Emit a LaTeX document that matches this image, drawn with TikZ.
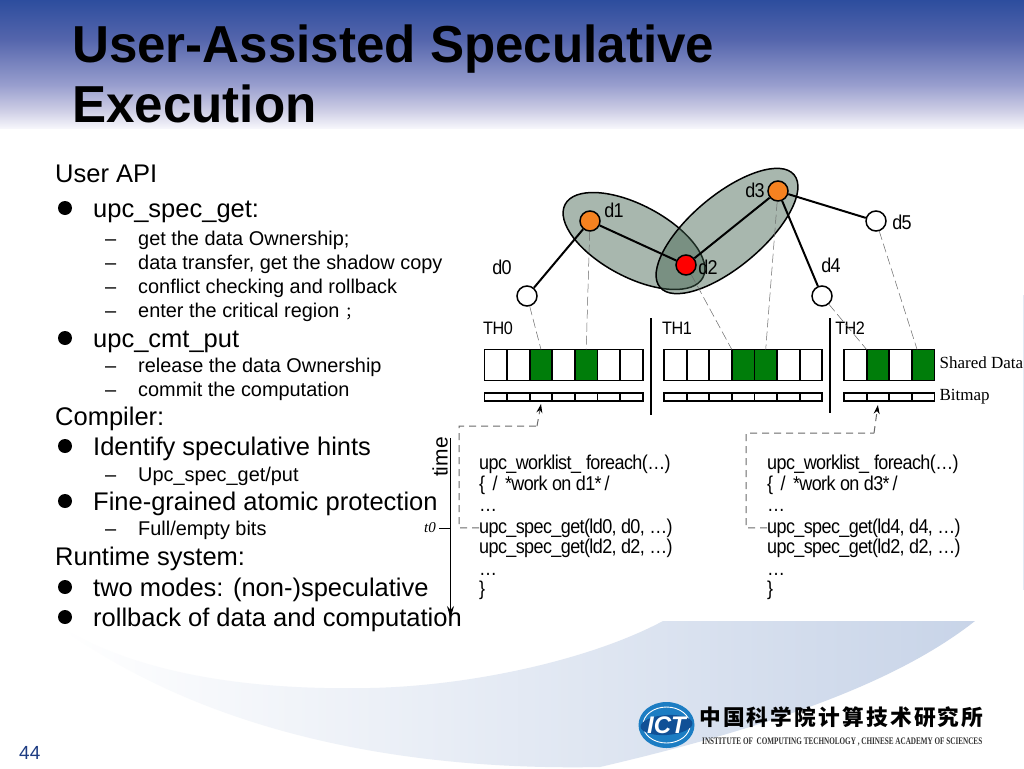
\documentclass[tikz,border=0pt]{standalone}
\usepackage{fontspec}
\setmainfont{Liberation Sans}
\newfontfamily\titlefont[FakeStretch=0.983]{Liberation Sans}
\newfontfamily\codefont[FakeStretch=0.9,LetterSpace=-3]{Liberation Sans}
\newfontfamily\figserif{Liberation Serif}
\newfontfamily\tinyserif[FakeStretch=0.717]{Liberation Serif}
\newfontfamily\cjkfont{Noto Sans CJK SC}
\newfontfamily\cjkwide[LetterSpace=10]{Noto Sans CJK SC}
\usetikzlibrary{arrows,arrows.meta,positioning,shapes.geometric}

\definecolor{bandtop}{RGB}{46,78,158}
\definecolor{bandupper}{RGB}{84,101,172}
\definecolor{bandmid}{RGB}{152,158,206}
\definecolor{bandlow}{RGB}{205,205,229}
\definecolor{bandfoot}{RGB}{246,246,251}
\definecolor{sweepblue}{RGB}{200,212,232}
\definecolor{sagefill}{RGB}{64,97,77}
\definecolor{datagreen}{RGB}{0,125,10}
\definecolor{nodeorange}{RGB}{245,130,32}
\definecolor{linkgrey}{RGB}{105,105,105}
\definecolor{pagenum}{RGB}{30,60,130}
\definecolor{logoblue}{RGB}{28,125,195}
\definecolor{logodark}{RGB}{16,80,150}

\pgfdeclareverticalshading{titleband}{100bp}{color(0bp)=(bandfoot); color(25bp)=(bandfoot);
  color(32bp)=(bandlow); color(42bp)=(bandmid); color(60bp)=(bandupper);
  color(75bp)=(bandtop); color(100bp)=(bandtop)}

\tikzset{
  heading/.style={anchor=base west,inner sep=0pt,font=\titlefont\fontsize{52}{60}\selectfont\bfseries},
  lvlzero/.style={anchor=base west,inner sep=0pt,font=\fontsize{25.5}{30}\selectfont},
  lvlone/.style={anchor=base west,inner sep=0pt,font=\fontsize{25.5}{30}\selectfont},
  lvltwo/.style={anchor=base west,inner sep=0pt,font=\fontsize{19.9}{24}\selectfont},
  bulletdot/.style={circle,fill=black,inner sep=0pt,minimum size=14pt},
  dashmark/.style={anchor=base west,inner sep=0pt,font=\fontsize{20}{24}\selectfont},
  code/.style={anchor=base west,inner sep=0pt,font=\codefont\fontsize{20}{24}\selectfont},
  figlabel/.style={inner sep=0pt,font=\codefont\fontsize{20}{24}\selectfont},
  thlabel/.style={inner sep=0pt,font=\codefont\fontsize{18}{22}\selectfont},
  sidelabel/.style={anchor=west,inner sep=0pt,font=\figserif\fontsize{17}{20}\selectfont},
  region/.style={ellipse,draw=black,line width=1.5pt,fill=sagefill,fill opacity=.45,inner sep=0pt},
  datum/.style={circle,draw=black,line width=1.5pt,fill=white,inner sep=0pt,minimum size=20pt},
  datacell/.style={draw=black,line width=1.8pt,inner sep=0pt,outer sep=0pt,minimum width=22.6pt,minimum height=31pt},
  bitcell/.style={draw=black,line width=1.8pt,fill=white,inner sep=0pt,outer sep=0pt,minimum width=22.6pt,minimum height=8pt},
  link/.style={line width=2pt,draw=black},
  owner/.style={draw=linkgrey,line width=.5pt,dash pattern=on 9pt off 4pt},
  divider/.style={line width=1.8pt,draw=black},
  feedback/.style={draw=linkgrey,line width=1pt,dash pattern=on 7pt off 5pt},
  fbtip/.style={-{Stealth[length=9pt,width=6pt,black]}},
}

\begin{document}
\begin{tikzpicture}[x=1pt,y=-1pt,>=stealth']
  \useasboundingbox (0,0) rectangle (1024,768);
  \fill[white] (0,0) rectangle (1024,768);

  % background
  \shade[shading=titleband] (0,1) rectangle (1024,128);
  \shade[left color=white,middle color=sweepblue!50,right color=sweepblue] (60,627)
    .. controls (150,680) and (270,690) .. (370,688)
    .. controls (470,686) and (590,660) .. (663,621)
    -- (975,621)
    .. controls (900,680) and (780,725) .. (600,767)
    .. controls (450,770) and (230,750) .. (60,627);
  \fill[sweepblue!50] (1022.5,295) rectangle (1024,590);

  \node[heading] (title1) at (72,63) {User-Assisted Speculative};
  \node[heading] (title2) at (72,122) {Execution};

  % left column
  \node[lvlzero] (userapi) at (55,182) {User API};
  \node[lvlone] (specget) at (93,217) {upc\_spec\_get:};
  \node[lvltwo] (own) at (138,245) {get the data Ownership;};
  \node[lvltwo] (transfer) at (138,269) {data transfer, get the shadow copy};
  \node[lvltwo] (conflict) at (138,293) {conflict checking and rollback};
  \node[lvltwo] (enter) at (138,317) {enter the critical region {\cjkfont\fontsize{15}{18}\selectfont ；}};
  \node[lvlone] (cmtput) at (93,347) {upc\_cmt\_put};
  \node[lvltwo] (release) at (138,372) {release the data Ownership};
  \node[lvltwo] (commit) at (138,396) {commit the computation};
  \node[lvlzero] (compiler) at (55,425) {Compiler:};
  \node[lvlone] (hints) at (93,455) {Identify speculative hints};
  \node[lvltwo] (getput) at (138,481) {Upc\_spec\_get/put};
  \node[lvlone] (atomic) at (93,510) {Fine-grained atomic protection};
  \node[lvltwo] (bits) at (138,535) {Full/empty bits};
  \node[lvlzero] (runtime) at (55,565) {Runtime system:};
  \node[lvlone] (modes) at (93,596) {two modes: (non-)speculative};
  \node[lvlone] (rollback) at (93,626) {rollback of data and computation};
  \foreach \n/\y in {a/208,b/338,c/446,d/501,e/587,f/617}
    \node[bulletdot] (bul\n) at (65,\y) {};
  \foreach \n/\y in {a/245,b/269,c/293,d/317,e/372,f/396,g/481,h/535}
    \node[dashmark] (dash\n) at (105,\y) {--};

  % regions and data
  \node[region,minimum width=156pt,minimum height=72pt,rotate=-28] (regionA) at (634,241) {};
  \node[region,minimum width=175pt,minimum height=72pt,rotate=40] (regionB) at (727,231) {};

  \node[datum]                  (d0) at (527,296) {};
  \node[datum,fill=nodeorange]  (d1) at (590,221) {};
  \node[datum,fill=red]         (d2) at (686,265) {};
  \node[datum,fill=nodeorange]  (d3) at (778,191) {};
  \node[datum]                  (d4) at (822,296) {};
  \node[datum]                  (d5) at (876,221) {};

  \node[figlabel] (labd0) at (502,267) {d0};
  \node[figlabel] (labd1) at (614,210) {d1};
  \node[figlabel] (labd2) at (708,267) {d2};
  \node[figlabel] (labd3) at (755,190) {d3};
  \node[figlabel] (labd4) at (831,265) {d4};
  \node[figlabel] (labd5) at (902,222) {d5};

  % arrays
  \node[thlabel] (th0) at (498,328) {TH0};
  \node[thlabel] (th1) at (677,328) {TH1};
  \node[thlabel] (th2) at (850,328) {TH2};

  \foreach \i/\c in {0/white,1/white,2/datagreen,3/white,4/datagreen,5/white,6/white} {
    \node[datacell,fill=\c] (th0c\i) at ({484.5+22.6*(\i+.5)},365) {};
    \node[bitcell] (th0b\i) at ({484.5+22.6*(\i+.5)},397) {};
  }
  \foreach \i/\c in {0/white,1/white,2/white,3/datagreen,4/datagreen,5/white,6/white} {
    \node[datacell,fill=\c] (th1c\i) at ({664+22.6*(\i+.5)},365) {};
    \node[bitcell] (th1b\i) at ({664+22.6*(\i+.5)},397) {};
  }
  \foreach \i/\c in {0/white,1/datagreen,2/white,3/datagreen} {
    \node[datacell,fill=\c] (th2c\i) at ({844+22.6*(\i+.5)},365) {};
    \node[bitcell] (th2b\i) at ({844+22.6*(\i+.5)},397) {};
  }
  \node[sidelabel,right=5pt of th2c3,yshift=2.5pt] (shared) {Shared Data};
  \node[sidelabel,right=5pt of th2b3] (bitmap) {Bitmap};

  \coordinate (div0top) at (651,318);
  \coordinate (div0end) at (651,415);
  \coordinate (div1top) at (830,318);
  \coordinate (div1end) at (830,413);
  \draw[divider] (div0top) -- (div0end);
  \draw[divider] (div1top) -- (div1end);

  \path[link] (d0) edge (d1)
              (d1) edge (d2)
              (d2) edge (d3)
              (d3) edge (d4)
              (d3) edge (d5);

  \draw[owner] (d0) -- (th0c2.north);
  \draw[owner] (d1) -- (th0c4.north);
  \draw[owner] (d2) -- (th1c3.north west);
  \draw[owner] (d3) -- (th1c4.north);
  \draw[owner] (d4) -- (th2c1.north west);
  \draw[owner] (d5) -- ([xshift=-6pt]th2c3.north);

  % code
  \node[code] (loop0) at (479,469) {upc\_worklist\_\hspace{5pt}foreach(…)};
  \node[code] (work0) at (479,490) {\{\hspace{3pt} / \hspace{3pt}*work on d1*\hspace{3pt}/};
  \node[code] (gap0a) at (479,511) {…};
  \node[code] (get0a) at (479,533) {upc\_spec\_get(ld0, d0, …)};
  \node[code] (get0b) at (479,553) {upc\_spec\_get(ld2, d2, …)};
  \node[code] (gap0b) at (479,575) {…};
  \node[code] (end0) at (479,595) {\}};

  \node[code] (loop1) at (767,469) {upc\_worklist\_\hspace{5pt}foreach(…)};
  \node[code] (work1) at (767,490) {\{\hspace{3pt} / \hspace{3pt}*work on d3*\hspace{3pt}/};
  \node[code] (gap1a) at (767,511) {…};
  \node[code] (get1a) at (767,533) {upc\_spec\_get(ld4, d4, …)};
  \node[code] (get1b) at (767,553) {upc\_spec\_get(ld2, d2, …)};
  \node[code] (gap1b) at (767,575) {…};
  \node[code] (end1) at (767,595) {\}};

  \coordinate (fb0a) at (459,528);
  \coordinate (fb0b) at (459,426);
  \coordinate (fb0c) at (537,426);
  \coordinate (fb1a) at (746,528);
  \coordinate (fb1b) at (746,433);
  \coordinate (fb1c) at (874,433);
  \draw[feedback] (get0a.west) -- (fb0a) -- (fb0b) -- (fb0c);
  \draw[feedback,fbtip] (fb0c) -- ([yshift=-3pt]th0b2.south);
  \draw[feedback] (get1a.west) -- (fb1a) -- (fb1b) -- (fb1c);
  \draw[feedback,fbtip] (fb1c) -- ([yshift=-4pt]th2b1.south);

  % time axis
  \coordinate (timetop) at (450.5,438);
  \coordinate (timeend) at (450.5,618);
  \coordinate (timet0) at (450.5,528);
  \draw[-{Stealth[length=12pt,width=7pt]},line width=.8pt] (timetop) -- (timeend);
  \node[inner sep=0pt,rotate=90,font=\fontsize{21}{24}\selectfont] (timelab) at (440,457) {time};
  \node[inner sep=0pt,anchor=east,font=\figserif\itshape\fontsize{15}{16}\selectfont] (t0) at (436,528) {t0};
  \draw[line width=.6pt,shorten <=3pt] (t0) -- (timet0);

  % footer
  \node[anchor=base west,inner sep=0pt,text=pagenum,font=\fontsize{19}{22}\selectfont] (page) at (19,759) {44};
  \node[ellipse,fill=logoblue,inner sep=0pt,minimum width=56pt,minimum height=46pt] (logo) at (666.5,725) {};
  \node[ellipse,draw=white,line width=.9pt,inner sep=0pt,minimum width=47pt,minimum height=36pt] (logoring) at (logo) {};
  \node[ellipse,fill=logodark,inner sep=0pt,minimum width=52pt,minimum height=20pt,rotate=4] (logoband) at (logo) {};
  \node[inner sep=0pt,text=white,font=\fontsize{24}{26}\selectfont\bfseries\itshape] (logotext) at (logo) {ICT};
  \node[anchor=west,inner sep=0pt,font=\cjkwide\fontsize{21.7}{24}\selectfont\bfseries] (instcn) at (699,717) {中国科学院计算技术研究所};
  \node[anchor=west,inner sep=0pt,text=black!80,font=\tinyserif\fontsize{10}{11}\selectfont\bfseries] (insten) at (702,741.5) {INSTITUTE OF\ \ COMPUTING TECHNOLOGY , CHINESE ACADEMY OF SCIENCES};
\end{tikzpicture}
\end{document}
